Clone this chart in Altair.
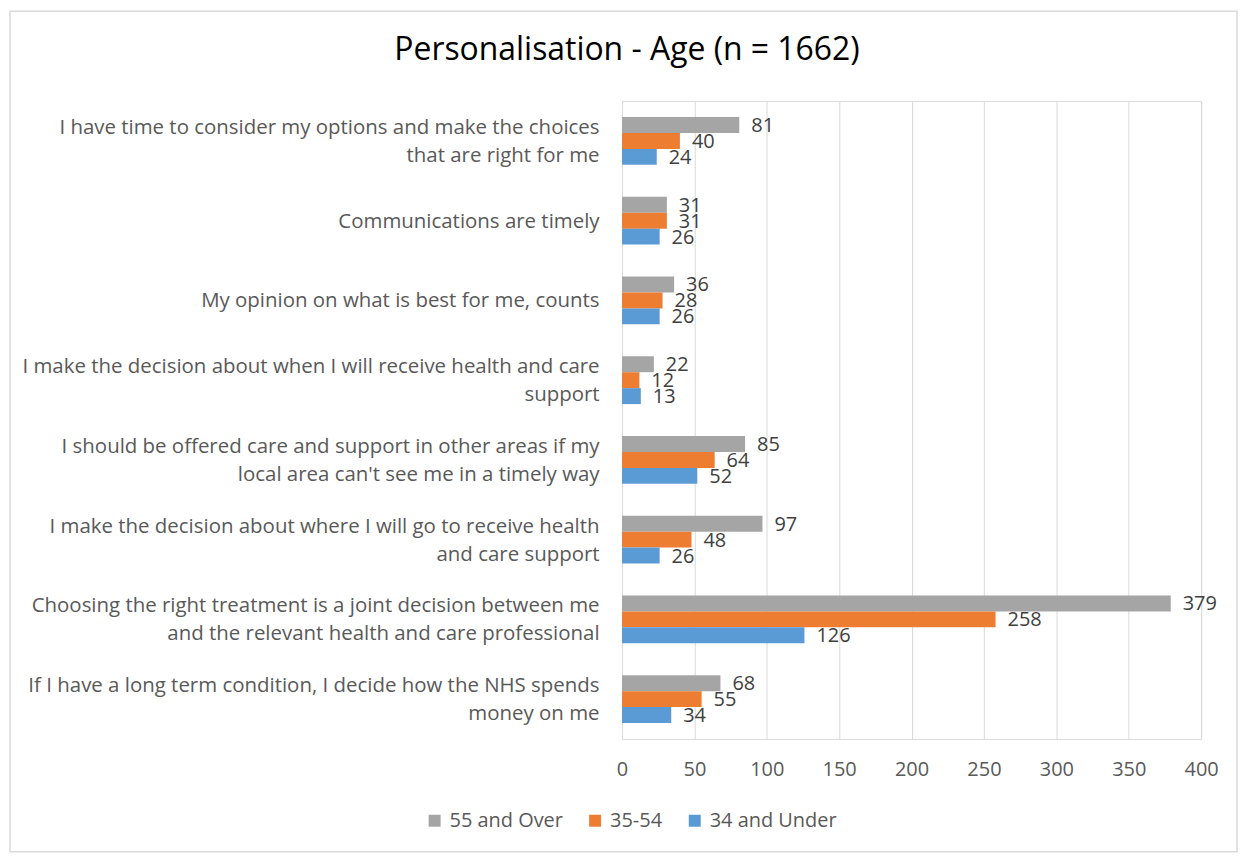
import altair as alt
import pandas as pd

categories = [
    "I have time to consider my options and make the choices|that are right for me",
    "Communications are timely",
    "My opinion on what is best for me, counts",
    "I make the decision about when I will receive health and care|support",
    "I should be offered care and support in other areas if my|local area can't see me in a timely way",
    "I make the decision about where I will go to receive health|and care support",
    "Choosing the right treatment is a joint decision between me|and the relevant health and care professional",
    "If I have a long term condition, I decide how the NHS spends|money on me",
]
series = ["55 and Over", "35-54", "34 and Under"]
colors = ["#A5A5A5", "#ED7D31", "#5B9BD5"]
over55 = [81, 31, 36, 22, 85, 97, 379, 68]
mid = [40, 31, 28, 12, 64, 48, 258, 55]
under34 = [24, 26, 26, 13, 52, 26, 126, 34]
x_ticks = [0, 50, 100, 150, 200, 250, 300, 350, 400]
title_text = "Personalisation - Age (n = 1662)"

rows = []
for vals, s in zip([over55, mid, under34], series):
    for c, v in zip(categories, vals):
        rows.append({"category": c, "series": s, "value": v})
df = pd.DataFrame(rows)

FONT = "Open Sans"

y_enc = alt.Y(
    "category:N",
    sort=categories,
    title=None,
    scale=alt.Scale(paddingInner=0.4, paddingOuter=0.2),
    axis=alt.Axis(
        labelExpr="split(datum.label, '|')",
        labelFontSize=20.5,
        labelColor="#595959",
        labelFont=FONT,
        labelLineHeight=28,
        labelPadding=23,
        labelOffset={
            "condition": {"test": "indexof(datum.value, '|') >= 0", "value": -13},
            "value": 1,
        },
        ticks=False,
        domain=False,
        grid=False,
        labelLimit=700,
    ),
)
x_enc = alt.X(
    "value:Q",
    title=None,
    scale=alt.Scale(domain=[0, 400], nice=False),
    axis=alt.Axis(
        values=x_ticks,
        labelFontSize=20,
        labelColor="#595959",
        labelFont=FONT,
        labelPadding=21,
        labelFlush=False,
        ticks=False,
        domain=False,
        grid=True,
        gridColor="#D9D9D9",
    ),
)

base = alt.Chart(df).encode(
    y=y_enc,
    yOffset=alt.YOffset("series:N", sort=series),
)

bars = base.mark_bar(size=16).encode(
    x=x_enc,
    color=alt.Color(
        "series:N",
        sort=series,
        scale=alt.Scale(domain=series, range=colors),
        legend=alt.Legend(
            title=None,
            orient="none",
            legendX=-198,
            legendY=712,
            direction="horizontal",
            symbolType="square",
            symbolSize=144,
            symbolStrokeWidth=0,
            labelFontSize=20,
            labelFont=FONT,
            labelColor="#595959",
            columnPadding=22,
            labelOffset=5,
        ),
    ),
)

labels = base.mark_text(
    align="left", baseline="middle", dx=12, dy=1, fontSize=20, font=FONT, color="#404040"
).encode(x="value:Q", text="value:Q")

title = alt.Chart(pd.DataFrame({"t": [title_text]})).mark_text(
    align="center", baseline="alphabetic", fontSize=32, font=FONT, color="#000000"
).encode(x=alt.value(5), y=alt.value(-41), text="t:N")

border = alt.Chart(pd.DataFrame({"a": [0]})).mark_rect(
    fill=None, stroke="#D9D9D9", strokeWidth=1.5
).encode(
    x=alt.value(-614), x2=alt.value(617), y=alt.value(-90), y2=alt.value(753)
)

chart = (
    alt.layer(bars, labels, title, border)
    .properties(
        width=581,
        height=640,
        autosize=alt.AutoSizeParams(type="none"),
        padding={"left": 616, "top": 92, "right": 38, "bottom": 116},
    )
    .configure_view(stroke=None)
    .configure(background="white")
)

chart.save("out.html", embed_options={"renderer": "svg", "actions": False})
